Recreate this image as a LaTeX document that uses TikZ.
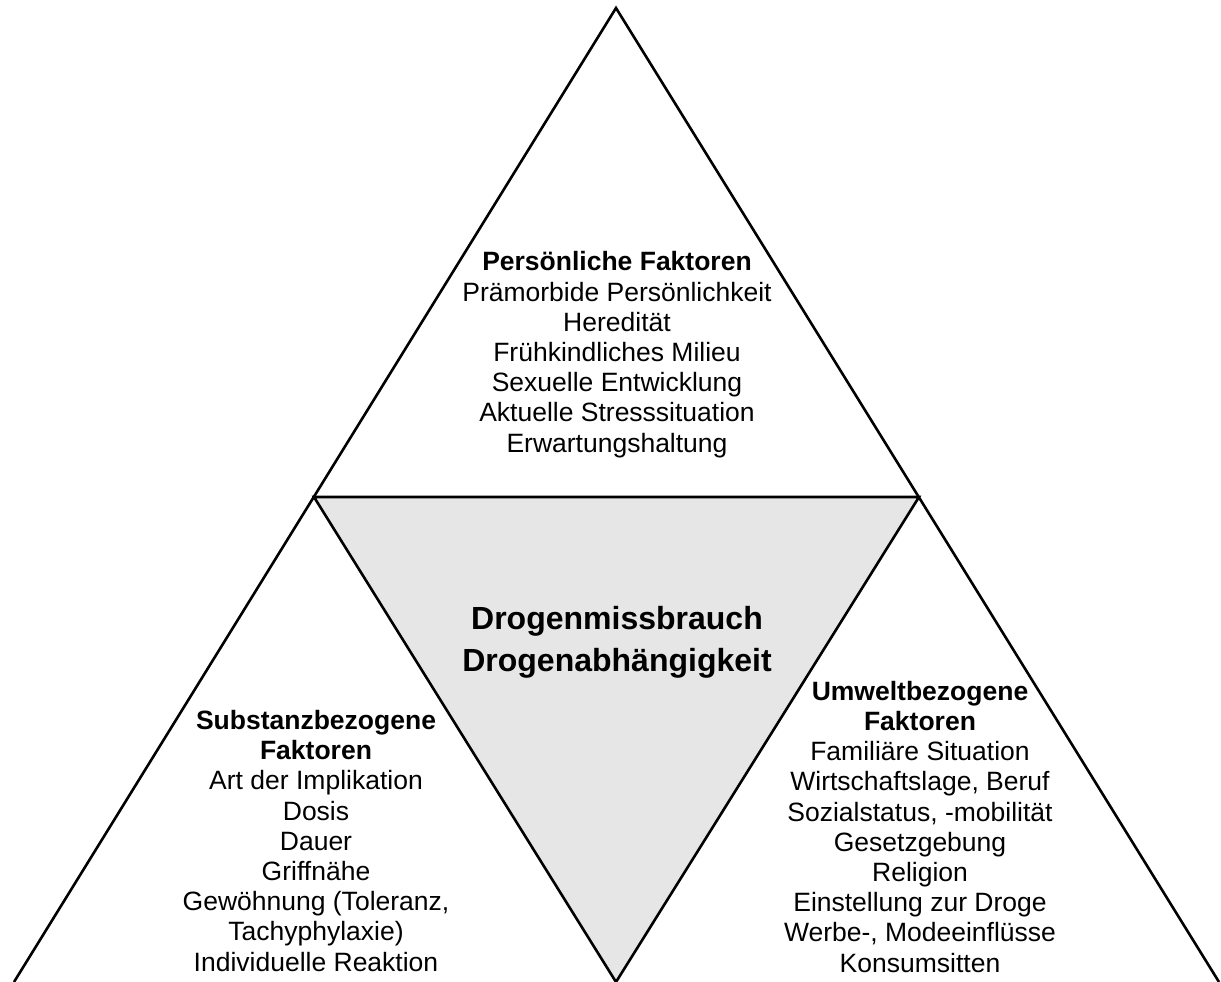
\documentclass[tikz,border=0pt]{standalone}
\usepackage{fontspec}
\setmainfont{Liberation Sans}
\definecolor{coregray}{RGB}{230,230,230}
\begin{document}
\begin{tikzpicture}[x=1pt,y=-1pt,
  edge/.style={line width=2.6pt,line join=miter,black},
  factor/.style={anchor=base,align=center,inner sep=0pt,font=\fontsize{26.5}{30.2}\selectfont},
  core/.style={anchor=base,align=center,inner sep=0pt,font=\fontsize{32}{41.5}\selectfont\bfseries}]
\useasboundingbox (0,0) rectangle (1221,982);
\clip (0,0) rectangle (1221,982);
% corners of the pyramid
\coordinate (apex) at (616,8);
\coordinate (bl) at (14,982);
\coordinate (br) at (1219,982);
\coordinate (il) at (314,497);
\coordinate (ir) at (919,497);
\coordinate (ib) at (616,982);
% central inverted triangle
\filldraw[edge,fill=coregray] (il) -- (ir) -- (ib) -- cycle;
% outer triangle sides
\draw[edge] (bl) -- (apex) -- (br);
% labels (each node is anchored at the baseline of its last line)
\node[core] (center) at (617,671) {Drogenmissbrauch\\Drogenabhängigkeit};
\node[factor] (pers) at (617,452) {\textbf{Persönliche Faktoren}\\Prämorbide Persönlichkeit\\Heredität\\Frühkindliches Milieu\\Sexuelle Entwicklung\\Aktuelle Stresssituation\\Erwartungshaltung};
\node[factor] (subst) at (316,971) {\textbf{Substanzbezogene}\\\textbf{Faktoren}\\Art der Implikation\\Dosis\\Dauer\\Griffnähe\\Gewöhnung (Toleranz,\\Tachyphylaxie)\\Individuelle Reaktion};
\node[factor] (umwelt) at (920,972) {\textbf{Umweltbezogene}\\\textbf{Faktoren}\\Familiäre Situation\\Wirtschaftslage, Beruf\\Sozialstatus, -mobilität\\Gesetzgebung\\Religion\\Einstellung zur Droge\\Werbe-, Modeeinflüsse\\Konsumsitten};
\end{tikzpicture}
\end{document}
